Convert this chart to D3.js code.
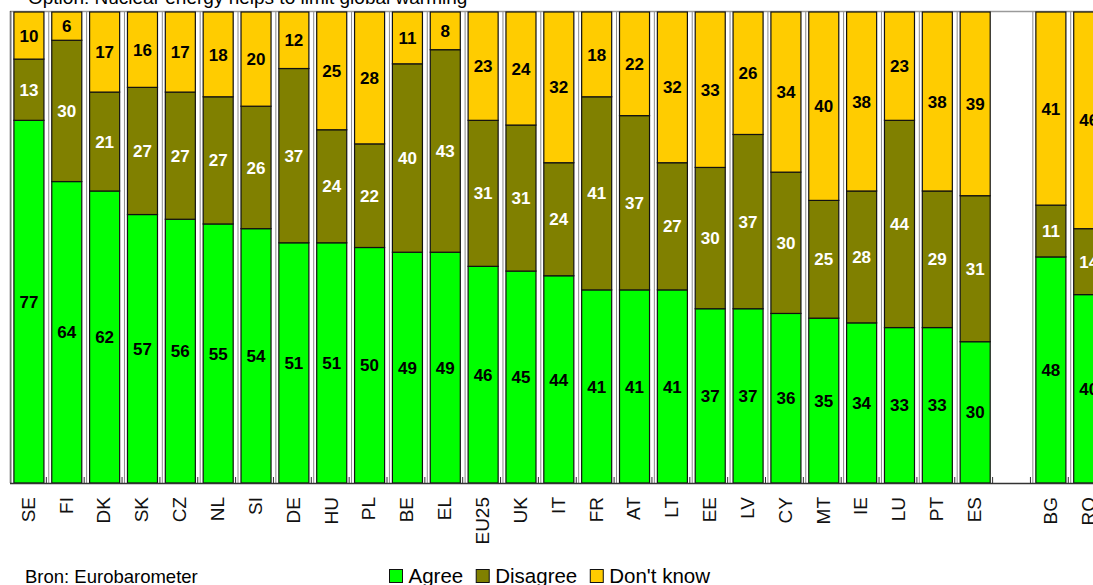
<!DOCTYPE html>
<html>
<head>
<meta charset="utf-8">
<script src="https://cdn.jsdelivr.net/npm/d3@7"></script>
<style>
  html, body { margin: 0; padding: 0; background: #fff; }
  svg { display: block; font-family: Arial, "Liberation Sans", sans-serif; }
</style>
</head>
<body>
<svg id="chart" width="1093" height="585"></svg>
<script>
const categories = ["SE","FI","DK","SK","CZ","NL","SI","DE","HU","PL","BE","EL","EU25","UK","IT","FR","AT","LT","EE","LV","CY","MT","IE","LU","PT","ES"," ","BG","RO"];
const agree    = [77,64,62,57,56,55,54,51,51,50,49,49,46,45,44,41,41,41,37,37,36,35,34,33,33,30,null,48,40];
const disagree = [13,30,21,27,27,27,26,37,24,22,40,43,31,31,24,41,37,27,30,37,30,25,28,44,29,31,null,11,14];
const dontKnow = [10, 6,17,16,17,18,20,12,25,28,11, 8,23,24,32,18,22,32,33,26,34,40,38,23,38,39,null,41,46];
const seriesNames = ["Agree","Disagree","Don't know"];
const seriesColors = ["#00ff00","#808000","#ffcc00"];
const labelColors = ["#000","#fff","#000"];
const titleText = "Option: Nuclear energy helps to limit global warming";
const sourceText = "Bron: Eurobarometer";

(function () {
const svg = d3.select("#chart");
const plotLeft = 10, step = 37.85, plotTop = 12, plotBottom = 483;

const x = d3.scaleBand()
  .domain(categories)
  .range([plotLeft, plotLeft + step * categories.length])
  .paddingInner(0.18)
  .paddingOuter(0.09);
const y = d3.scaleLinear().domain([0, 100]).range([plotBottom, plotTop]);

const rows = categories.map((c, i) => ({cat: c, Agree: agree[i], Disagree: disagree[i], "Don't know": dontKnow[i]}))
  .filter(d => d.Agree != null);
const stack = d3.stack().keys(seriesNames)(rows);

// plot frame lines
svg.append("line").attr("x1", plotLeft).attr("x2", 1093).attr("y1", plotTop - 0.5).attr("y2", plotTop - 0.5)
  .attr("stroke", "#9a9a9a").attr("stroke-width", 1.5);
svg.append("line").attr("x1", plotLeft + 0.5).attr("x2", plotLeft + 0.5).attr("y1", plotTop - 1).attr("y2", plotBottom)
  .attr("stroke", "#555").attr("stroke-width", 1.5);

// grey shading lines left of each bar
svg.append("g").selectAll("line").data(rows).join("line")
  .attr("x1", d => x(d.cat) - 2.5).attr("x2", d => x(d.cat) - 2.5)
  .attr("y1", plotTop).attr("y2", plotBottom)
  .attr("stroke", "#8c8c8c").attr("stroke-width", 1);

// bars
const g = svg.append("g");
stack.forEach((layer, li) => {
  g.append("g").selectAll("rect").data(layer).join("rect")
    .attr("x", d => x(d.data.cat) + 0.5)
    .attr("width", x.bandwidth() - 1)
    .attr("y", d => y(d[1]))
    .attr("height", d => y(d[0]) - y(d[1]))
    .attr("fill", seriesColors[li])
    .attr("stroke", "#111")
    .attr("stroke-width", 1.2);
});

// value labels
stack.forEach((layer, li) => {
  g.append("g").selectAll("text").data(layer).join("text")
    .attr("x", d => x(d.data.cat) + x.bandwidth() / 2)
    .attr("y", d => (y(d[0]) + y(d[1])) / 2)
    .attr("dy", "0.36em")
    .attr("text-anchor", "middle")
    .attr("font-size", "17px")
    .attr("font-weight", "bold")
    .attr("fill", labelColors[li])
    .text(d => d[1] - d[0]);
});

// axis line
svg.append("line").attr("x1", plotLeft).attr("x2", 1093).attr("y1", plotBottom + 0.5).attr("y2", plotBottom + 0.5)
  .attr("stroke", "#333").attr("stroke-width", 1.6);

// boundary ticks
const bounds = categories.map(c => x(c) - x.step() * x.paddingOuter());
bounds.push(plotLeft + step * categories.length);
svg.append("g").selectAll("line").data(bounds.slice(1)).join("line")
  .attr("x1", d => d - 1.5).attr("x2", d => d - 1.5)
  .attr("y1", plotBottom - 6).attr("y2", plotBottom)
  .attr("stroke", "#333").attr("stroke-width", 1);

// category labels
const axis = d3.axisBottom(x).tickSize(0).tickPadding(0);
const ax = svg.append("g").attr("transform", `translate(0,${plotBottom})`).call(axis);
ax.select(".domain").remove();
ax.selectAll("text")
  .attr("font-size", "19px")
  .attr("font-family", "Arial, 'Liberation Sans', sans-serif")
  .attr("fill", "#111")
  .attr("text-anchor", "end")
  .attr("transform", "translate(-1,14) rotate(-90)")
  .attr("x", 0).attr("y", 0).attr("dy", "0.36em");

// title (cropped at top)
svg.append("text").attr("x", 28).attr("y", 3.5)
  .attr("font-size", "19px").attr("fill", "#000").text(titleText);

// source
svg.append("text").attr("x", 25).attr("y", 583)
  .attr("font-size", "18.5px").attr("fill", "#000").text(sourceText);

// legend
const lg = svg.append("g");
let lx = 389.5;
seriesNames.forEach((name, i) => {
  lg.append("rect").attr("x", lx).attr("y", 569.5).attr("width", 13).attr("height", 13)
    .attr("fill", seriesColors[i]).attr("stroke", "#111").attr("stroke-width", 1);
  const t = lg.append("text").attr("x", lx + 19).attr("y", 583)
    .attr("font-size", "20.5px").attr("fill", "#000").text(name);
  lx += 19 + t.node().getComputedTextLength() + 13;
});
})();
</script>
</body>
</html>
